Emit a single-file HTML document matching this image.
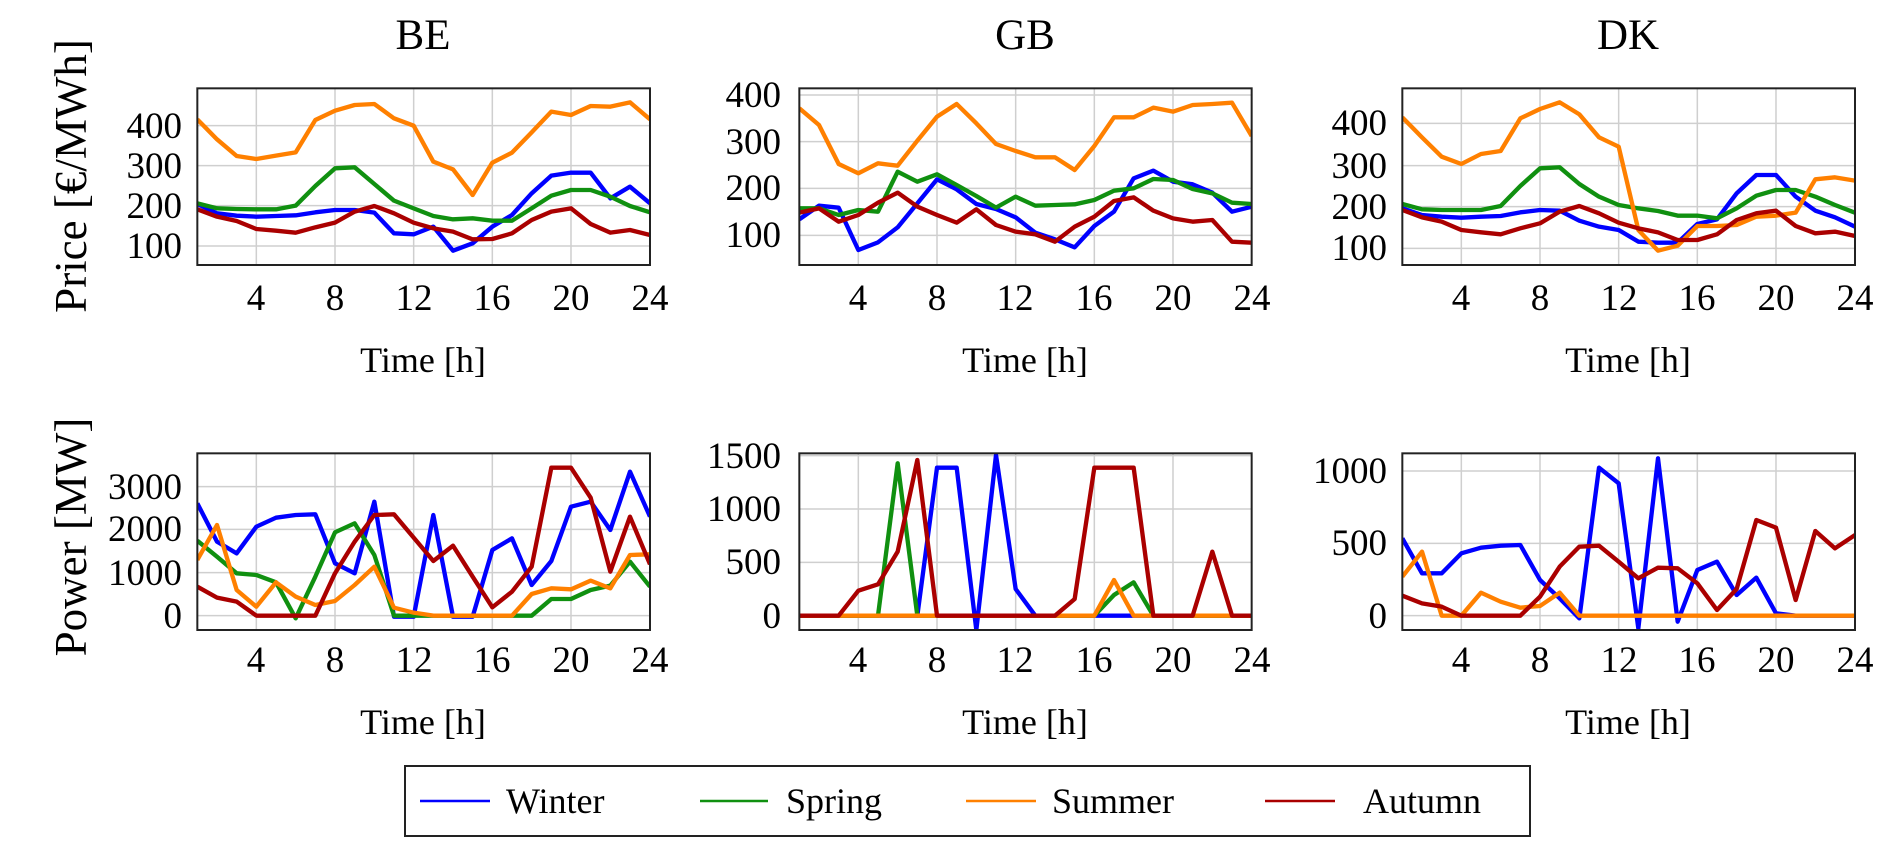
<!DOCTYPE html>
<html><head><meta charset="utf-8"><style>
html,body{margin:0;padding:0;background:#fff;}
svg{display:block;}
text{font-family:"Liberation Serif",serif;fill:#000;}
.tk{font-size:37px;}
.lb{font-size:36px;}
.yl{font-size:45px;}
.lg{font-size:36px;}
.ti{font-size:43px;}
.g{stroke:#cfcfcf;stroke-width:4.5;fill:none;}
.s{fill:none;stroke-width:13;stroke-linejoin:round;}
.b{stroke:#0000ff}.gr{stroke:#109010}.o{stroke:#ff8000}.r{stroke:#aa0000}
.box{fill:none;stroke:#222;stroke-width:6;}
</style></head><body>
<svg width="1892" height="856" viewBox="0 0 1892 856" xmlns="http://www.w3.org/2000/svg">
<defs>
<clipPath id="c1"><rect x="22" y="25" width="1358" height="530"/></clipPath>
<clipPath id="c2"><rect x="28" y="25" width="1357" height="530"/></clipPath>
</defs>

<!-- BE top -->
<g transform="translate(190,80) scale(0.33333)">
<path class="g" d="M199 25V555M435 25V555M671 25V555M907 25V555M1143 25V555M22 137H1380M22 257H1380M22 377H1380M22 498H1380"/>
<g clip-path="url(#c1)">
<polyline class="s b" points="22,372 81,400 140,407 199,410 258,408 317,406 376,397 435,390 494,390 553,398 612,460 671,463 730,440 789,512 848,490 907,440 966,405 1025,340 1084,287 1143,278 1202,278 1261,355 1320,320 1380,370"/>
<polyline class="s gr" points="22,370 81,385 140,387 199,388 258,388 317,377 376,318 435,265 494,262 553,312 612,362 671,385 730,408 789,418 848,415 907,422 966,422 1025,385 1084,347 1143,330 1202,330 1261,350 1320,378 1380,397"/>
<polyline class="s o" points="22,118 81,178 140,228 199,237 258,227 317,217 376,120 435,92 494,75 553,72 612,115 671,137 730,245 789,268 848,345 907,248 966,218 1025,157 1084,95 1143,105 1202,78 1261,80 1320,67 1380,118"/>
<polyline class="s r" points="22,388 81,410 140,423 199,447 258,452 317,458 376,442 435,428 494,395 553,378 612,400 671,428 730,445 789,455 848,478 907,477 966,460 1025,420 1084,395 1143,385 1202,432 1261,458 1320,450 1380,465"/>
</g>
<rect class="box" x="22" y="25" width="1358" height="530"/>
</g>

<!-- GB top -->
<g transform="translate(790,80) scale(0.33333)">
<path class="g" d="M205 25V555M441 25V555M677 25V555M913 25V555M1149 25V555M28 45H1385M28 185H1385M28 325H1385M28 466H1385"/>
<g clip-path="url(#c2)">
<polyline class="s b" points="28,418 87,377 146,383 205,510 264,487 323,442 382,370 441,298 500,328 559,372 618,387 677,412 736,458 795,478 854,502 913,438 972,395 1031,295 1090,272 1149,305 1208,313 1267,338 1326,395 1385,380"/>
<polyline class="s gr" points="28,385 87,385 146,405 205,390 264,395 323,275 382,305 441,283 500,315 559,348 618,383 677,350 736,377 795,375 854,373 913,360 972,332 1031,325 1090,297 1149,300 1208,327 1267,340 1326,368 1385,372"/>
<polyline class="s o" points="28,85 87,135 146,252 205,280 264,250 323,257 382,182 441,110 500,72 559,130 618,192 677,213 736,232 795,232 854,270 913,198 972,112 1031,112 1090,83 1149,95 1208,75 1267,72 1326,68 1385,168"/>
<polyline class="s r" points="28,398 87,385 146,425 205,405 264,368 323,338 382,380 441,405 500,428 559,388 618,435 677,455 736,463 795,485 854,440 913,410 972,363 1031,352 1090,392 1149,415 1208,425 1267,420 1326,485 1385,488"/>
</g>
<rect class="box" x="28" y="25" width="1357" height="530"/>
</g>

<!-- DK top -->
<g transform="translate(1395,80) scale(0.33333)">
<path class="g" d="M199 25V555M435 25V555M671 25V555M907 25V555M1143 25V555M22 130H1380M22 257H1380M22 380H1380M22 505H1380"/>
<g clip-path="url(#c1)">
<polyline class="s b" points="22,385 81,405 140,410 199,413 258,410 317,408 376,397 435,390 494,392 553,422 612,440 671,450 730,485 789,488 848,488 907,432 966,418 1025,340 1084,285 1143,285 1202,350 1261,392 1320,412 1380,440"/>
<polyline class="s gr" points="22,372 81,388 140,390 199,390 258,390 317,378 376,318 435,265 494,262 553,312 612,350 671,375 730,385 789,393 848,407 907,407 966,415 1025,385 1084,347 1143,330 1202,330 1261,350 1320,375 1380,398"/>
<polyline class="s o" points="22,112 81,172 140,230 199,252 258,222 317,213 376,115 435,87 494,67 553,103 612,172 671,200 730,450 789,512 848,497 907,438 966,438 1025,435 1084,410 1143,407 1202,398 1261,298 1320,292 1380,302"/>
<polyline class="s r" points="22,390 81,412 140,425 199,450 258,457 317,463 376,445 435,430 494,395 553,378 612,400 671,428 730,445 789,457 848,480 907,480 966,463 1025,420 1084,400 1143,392 1202,438 1261,460 1320,455 1380,468"/>
</g>
<rect class="box" x="22" y="25" width="1358" height="530"/>
</g>

<!-- BE bottom -->
<g transform="translate(190,445) scale(0.33333)">
<path class="g" d="M199 25V555M435 25V555M671 25V555M907 25V555M1143 25V555M22 125H1380M22 253H1380M22 383H1380M22 512H1380"/>
<g clip-path="url(#c1)">
<polyline class="s b" points="22,175 81,290 140,325 199,245 258,218 317,210 376,208 435,355 494,385 553,170 612,515 671,515 730,210 789,515 848,515 907,315 966,280 1025,420 1084,348 1143,185 1202,170 1261,255 1320,80 1380,215"/>
<polyline class="s gr" points="22,287 81,335 140,385 199,390 258,412 317,520 376,395 435,262 494,235 553,330 612,512 671,512 730,512 789,512 848,512 907,512 966,512 1025,512 1084,462 1143,462 1202,435 1261,422 1320,350 1380,425"/>
<polyline class="s o" points="22,345 81,240 140,435 199,485 258,412 317,455 376,480 435,468 494,420 553,365 612,488 671,503 730,512 789,512 848,512 907,512 966,512 1025,447 1084,430 1143,433 1202,407 1261,430 1320,330 1380,328"/>
<polyline class="s r" points="22,425 81,458 140,470 199,512 258,512 317,512 376,512 435,385 494,290 553,210 612,208 671,278 730,348 789,302 848,395 907,487 966,440 1025,365 1084,68 1143,68 1202,158 1261,380 1320,215 1380,358"/>
</g>
<rect class="box" x="22" y="25" width="1358" height="530"/>
</g>

<!-- GB bottom -->
<g transform="translate(790,445) scale(0.33333)">
<path class="g" d="M205 25V555M441 25V555M677 25V555M913 25V555M1149 25V555M28 32H1385M28 192H1385M28 352H1385M28 512H1385"/>
<g clip-path="url(#c2)">
<polyline class="s b" points="28,512 382,512 441,68 500,68 559,555 618,30 677,432 736,512 1385,512"/>
<polyline class="s gr" points="28,512 264,512 323,55 382,512 913,512 972,450 1031,412 1090,512 1385,512"/>
<polyline class="s o" points="28,512 913,512 972,405 1031,512 1385,512"/>
<polyline class="s r" points="28,512 146,512 205,437 264,418 323,320 382,45 441,512 795,512 854,462 913,68 1031,68 1090,512 1208,512 1267,320 1326,512 1385,512"/>
</g>
<rect class="box" x="28" y="25" width="1357" height="530"/>
</g>

<!-- DK bottom -->
<g transform="translate(1395,445) scale(0.33333)">
<path class="g" d="M199 25V555M435 25V555M671 25V555M907 25V555M1143 25V555M22 78H1380M22 295H1380M22 512H1380"/>
<g clip-path="url(#c1)">
<polyline class="s b" points="22,280 81,385 140,385 199,325 258,308 317,302 376,300 435,405 494,460 553,520 612,68 671,115 730,550 789,40 848,530 907,375 966,350 1025,450 1084,398 1143,505 1202,512 1380,512"/>
<polyline class="s o" points="22,395 81,320 140,512 199,512 258,443 317,470 376,488 435,483 494,443 553,512 1380,512"/>
<polyline class="s r" points="22,452 81,475 140,485 199,512 258,512 317,512 376,512 435,455 494,365 553,305 612,302 671,350 730,400 789,368 848,370 907,415 966,495 1025,432 1084,225 1143,248 1202,465 1261,258 1320,310 1380,270"/>
</g>
<rect class="box" x="22" y="25" width="1358" height="530"/>
</g>

<!-- Titles -->
<text class="ti" x="423" y="49" text-anchor="middle">BE</text>
<text class="ti" x="1025" y="49" text-anchor="middle">GB</text>
<text class="ti" x="1628" y="49" text-anchor="middle">DK</text>

<!-- X tick labels -->
<g class="tk" text-anchor="middle">
<text x="256" y="310">4</text><text x="335" y="310">8</text><text x="414" y="310">12</text><text x="492" y="310">16</text><text x="571" y="310">20</text><text x="650" y="310">24</text>
<text x="858" y="310">4</text><text x="937" y="310">8</text><text x="1015" y="310">12</text><text x="1094" y="310">16</text><text x="1173" y="310">20</text><text x="1252" y="310">24</text>
<text x="1461" y="310">4</text><text x="1540" y="310">8</text><text x="1619" y="310">12</text><text x="1697" y="310">16</text><text x="1776" y="310">20</text><text x="1855" y="310">24</text>
<text x="256" y="672">4</text><text x="335" y="672">8</text><text x="414" y="672">12</text><text x="492" y="672">16</text><text x="571" y="672">20</text><text x="650" y="672">24</text>
<text x="858" y="672">4</text><text x="937" y="672">8</text><text x="1015" y="672">12</text><text x="1094" y="672">16</text><text x="1173" y="672">20</text><text x="1252" y="672">24</text>
<text x="1461" y="672">4</text><text x="1540" y="672">8</text><text x="1619" y="672">12</text><text x="1697" y="672">16</text><text x="1776" y="672">20</text><text x="1855" y="672">24</text>
</g>

<!-- Y tick labels -->
<g class="tk" text-anchor="end">
<text x="182" y="138">400</text><text x="182" y="178">300</text><text x="182" y="218">200</text><text x="182" y="258">100</text>
<text x="781" y="107">400</text><text x="781" y="154">300</text><text x="781" y="200">200</text><text x="781" y="247">100</text>
<text x="1387" y="135">400</text><text x="1387" y="178">300</text><text x="1387" y="219">200</text><text x="1387" y="260">100</text>
<text x="182" y="499">3000</text><text x="182" y="541">2000</text><text x="182" y="585">1000</text><text x="182" y="628">0</text>
<text x="781" y="468">1500</text><text x="781" y="521">1000</text><text x="781" y="574">500</text><text x="781" y="628">0</text>
<text x="1387" y="483">1000</text><text x="1387" y="555">500</text><text x="1387" y="628">0</text>
</g>

<!-- Axis labels -->
<g class="lb" text-anchor="middle">
<text x="423" y="372">Time [h]</text><text x="1025" y="372">Time [h]</text><text x="1628" y="372">Time [h]</text>
<text x="423" y="734">Time [h]</text><text x="1025" y="734">Time [h]</text><text x="1628" y="734">Time [h]</text>
</g>
<g class="yl" text-anchor="middle">
<text transform="translate(86,176) rotate(-90)">Price [€/MWh]</text>
<text transform="translate(86,537) rotate(-90)">Power [MW]</text>
</g>

<!-- Legend -->
<rect x="405" y="766" width="1125" height="70" fill="#fff" stroke="#222" stroke-width="2"/>
<line x1="420" y1="801" x2="490" y2="801" stroke="#0000ff" stroke-width="2.5"/>
<text class="lg" x="506" y="813">Winter</text>
<line x1="700" y1="801" x2="768" y2="801" stroke="#109010" stroke-width="2.5"/>
<text class="lg" x="786" y="813">Spring</text>
<line x1="966" y1="801" x2="1036" y2="801" stroke="#ff8000" stroke-width="2.5"/>
<text class="lg" x="1052" y="813">Summer</text>
<line x1="1265" y1="801" x2="1335" y2="801" stroke="#aa0000" stroke-width="2.5"/>
<text class="lg" x="1363" y="813">Autumn</text>
</svg>
</body></html>
